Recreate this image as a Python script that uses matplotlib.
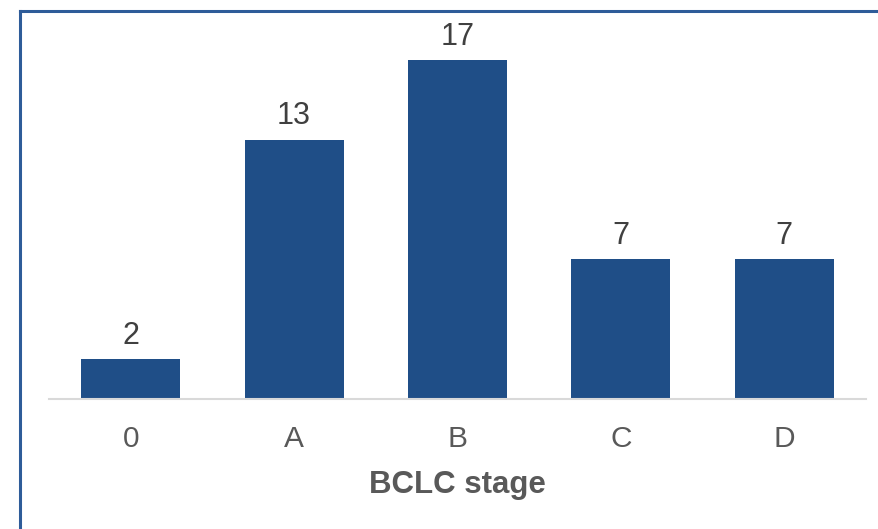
import matplotlib
matplotlib.use("Agg")
import matplotlib.pyplot as plt
from matplotlib.lines import Line2D

plt.rcParams['font.family'] = ['Liberation Sans', 'DejaVu Sans']

stages = ['0', 'A', 'B', 'C', 'D']
counts = [2, 13, 17, 7, 7]

bar_color = '#1F4E87'
text_color = '#595959'

W, H = 879, 529
fig = plt.figure(figsize=(W / 100, H / 100), dpi=100)

# axes area in pixel terms
left, right, bottom, top = 49, 866, 399, 10
ax = fig.add_axes([left / W, 1 - bottom / H, (right - left) / W, (bottom - top) / H])

x = range(len(stages))
ax.bar(x, counts, width=0.605, color=bar_color, zorder=2)
ax.set_xlim(-0.5, len(stages) - 0.5)
ax.set_ylim(0, (bottom - top) / 19.94)

for xi, v in zip(x, counts):
    ax.annotate(str(v), (xi, v), xytext=(0, 6), textcoords='offset points',
                ha='center', va='bottom', fontsize=22, color='#404040')

ax.set_xticks(list(x))
ax.set_xticklabels(stages, fontsize=21.5, color=text_color)
ax.tick_params(axis='x', length=0, pad=19)
ax.set_yticks([])
for s in ['left', 'right', 'top']:
    ax.spines[s].set_visible(False)
ax.spines['bottom'].set_color('#D9D9D9')
ax.spines['bottom'].set_linewidth(1.5)
ax.set_xlabel('BCLC stage', fontsize=22.5, fontweight='bold', color=text_color, labelpad=12)

# frame lines along the left and top edges
border = '#2E5C99'
fig.add_artist(Line2D([20.5 / W, 20.5 / W], [0, 1 - 10.5 / H], color=border, lw=2.2,
                      transform=fig.transFigure))
fig.add_artist(Line2D([20.5 / W, 1], [1 - 10.5 / H, 1 - 10.5 / H], color=border, lw=2.2,
                      transform=fig.transFigure))

fig.savefig('out.png', dpi=100)
